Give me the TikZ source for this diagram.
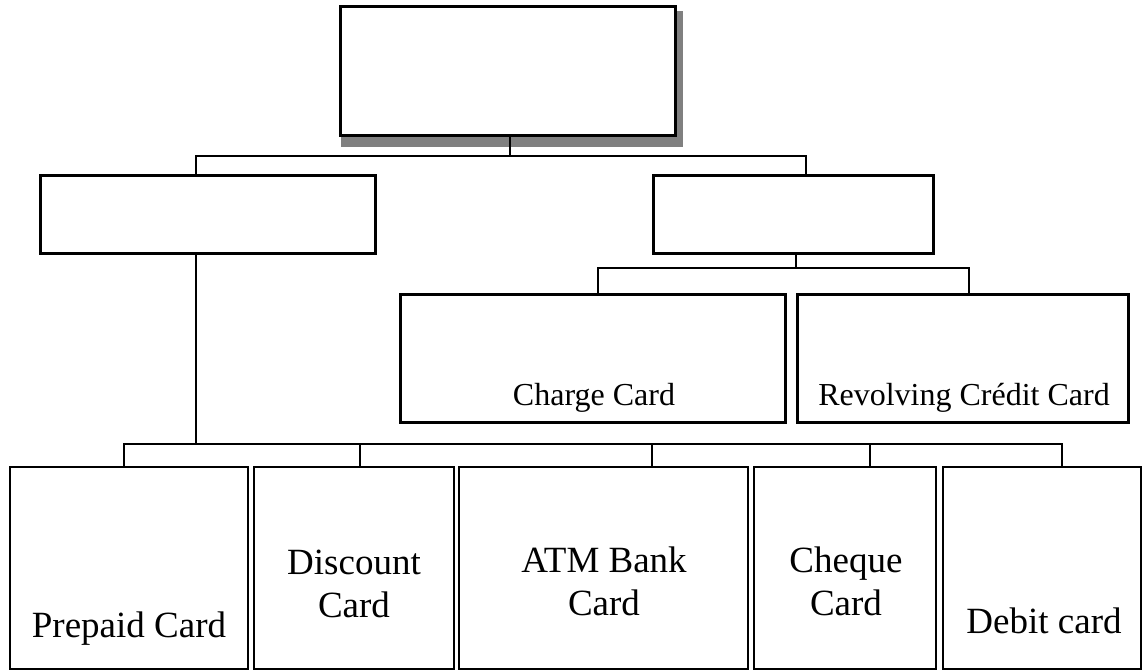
\documentclass[tikz,border=0pt]{standalone}
\usepackage{fontspec}
\setmainfont{Liberation Serif}
\definecolor{shadowgray}{RGB}{128,128,128}
\begin{document}
\begin{tikzpicture}[x=1pt,y=-1pt,
  tbox/.style={draw, line width=3.2pt, inner sep=0pt, fill=white},
  bbox/.style={draw, line width=2.4pt, inner sep=0pt, fill=white},
  conn/.style={line width=1.6pt},
  big/.style={font=\fontsize{37}{42.5}\selectfont, anchor=base, inner sep=0pt, align=center},
  small/.style={font=\fontsize{32}{36}\selectfont, anchor=base, inner sep=0pt}]
\useasboundingbox (0,0) rectangle (1144,672);
% top box with shadow
\node[tbox, draw=none, fill=none, minimum width=335pt, minimum height=129pt] (topref) at (508,71) {};
\fill[shadowgray] ([shift={(2.5,6.5)}]topref.north west) rectangle ([shift={(5.5,9.5)}]topref.south east);
\node[tbox, minimum width=335pt, minimum height=129pt] (top) at (508,71) {};
% level 2
\node[tbox, minimum width=335pt, minimum height=78pt] (left) at (208,214.5) {};
\node[tbox, minimum width=280pt, minimum height=78pt] (right) at (793.5,214.5) {};
% level 3 right
\node[tbox, minimum width=385pt, minimum height=128pt] (charge) at (593,358.5) {};
\node[tbox, minimum width=331pt, minimum height=128pt] (revolving) at (963,358.5) {};
% bottom row
\node[bbox, minimum width=237.6pt, minimum height=201.6pt] (prepaid) at (129,568) {};
\node[bbox, minimum width=199.6pt, minimum height=201.6pt] (discount) at (354,568) {};
\node[bbox, minimum width=288.6pt, minimum height=201.6pt] (atm) at (603.5,568) {};
\node[bbox, minimum width=181.6pt, minimum height=201.6pt] (cheque) at (845,568) {};
\node[bbox, minimum width=197.6pt, minimum height=201.6pt] (debit) at (1042,568) {};
% texts
\node[big] (tprepaid) at (129,637) {Prepaid Card};
\node[big] (tdiscount) at (354,617) {Discount\\Card};
\node[big] (tatm) at (604,615) {ATM Bank\\Card};
\node[big] (tcheque) at (846,615) {Cheque\\Card};
\node[big] (tdebit) at (1044,633) {Debit card};
\node[small] (tcharge) at (594,405) {Charge Card};
\node[small] (trevolving) at (964,405) {Revolving Crédit Card};
% junction coordinates
\coordinate (j1) at (510,156);
\coordinate (j1r) at (806,156);
\coordinate (j2) at (796,268);
\coordinate (j2a) at (598,268);
\coordinate (j2b) at (969,268);
\coordinate (j3) at (196,444);
\coordinate (j3a) at (124,444);
\coordinate (j3b) at (360,444);
\coordinate (j3c) at (652,444);
\coordinate (j3d) at (870,444);
\coordinate (j3e) at (1062,444);
% connectors
\draw[conn] (top.south -| j1) -- (j1);
\draw[conn] (left.north -| j3) |- (j1r) -- (j1r |- right.north);
\draw[conn] (right.south -| j2) -- (j2);
\draw[conn] (j2a |- charge.north) |- (j2b) -- (j2b |- revolving.north);
\draw[conn] (left.south -| j3) -- (j3);
\draw[conn] (j3a |- prepaid.north) |- (j3e) -- (j3e |- debit.north);
\draw[conn] (j3b) -- (j3b |- discount.north);
\draw[conn] (j3c) -- (j3c |- atm.north);
\draw[conn] (j3d) -- (j3d |- cheque.north);
\end{tikzpicture}
\end{document}
